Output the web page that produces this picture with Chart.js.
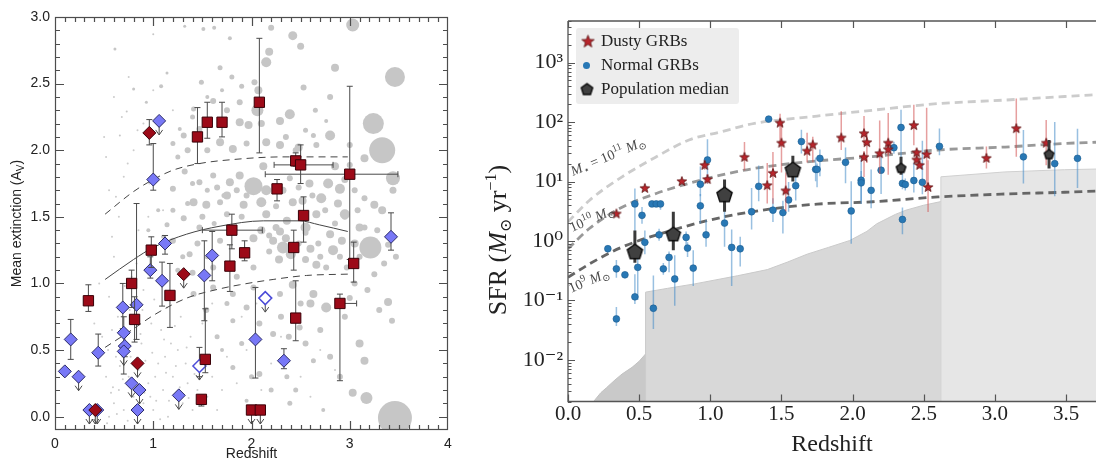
<!DOCTYPE html>
<html>
<head>
<meta charset="utf-8">
<script src="https://cdn.jsdelivr.net/npm/chart.js@4.4.0/dist/chart.umd.min.js"></script>
<style>
  html, body { margin: 0; padding: 0; background: #fff; }
  #wrap { position: relative; width: 1102px; height: 464px; }
  #izq { position: absolute; left: 0; top: 0; width: 470px; height: 464px; }
  #der { position: absolute; left: 480px; top: 0; width: 622px; height: 464px; }
</style>
</head>
<body>
<div id="wrap">
  <div id="izq"><canvas id="graficaExtincion"></canvas></div>
  <div id="der"><canvas id="graficaSFR"></canvas></div>
</div>
<script>
// ================= Panel izquierdo: extincion media =================
// diamantes azules
const azulZ  = [0.10, 0.16, 0.24, 0.35, 0.43, 0.44, 0.69, 0.70, 0.71, 0.70, 0.83, 0.78, 0.86, 0.84, 0.97, 1.00, 1.06, 1.09, 1.12, 1.26, 1.52, 1.60, 2.04, 2.33, 3.42];
const azulAv = [0.34, 0.58, 0.30, 0.05, 0.05, 0.48, 0.82, 0.63, 0.53, 0.49, 0.84, 0.25, 0.20, 0.05, 1.10, 1.78, 2.22, 1.02, 1.30, 0.16, 1.06, 1.21, 0.58, 0.42, 1.35];
const azulLo = [null, 0.43, null, null, null, 0.38, 0.66, 0.50, 0.45, 0.32, 0.58, null, null, null, 1.04, 1.70, null, 0.83, 1.22, null, 0.72, 1.02, 0.29, 0.36, 1.25];
const azulHi = [null, 0.73, null, null, null, 0.62, 1.00, 0.75, 0.62, 0.55, 1.60, null, null, null, 1.20, 2.05, null, 1.16, 1.36, null, 1.32, 1.39, 0.97, 0.51, 1.53];
const azulLim = [0, 0, 1, 1, 1, 0, 0, 0, 0, 1, 0, 1, 1, 1, 0, 0, 1, 0, 0, 1, 0, 0, 0, 0, 0];

// diamantes abiertos
const abiertoZ  = [1.47, 2.14];
const abiertoAv = [0.38, 0.89];
const abiertoLo = [0.30, null];
const abiertoHi = [0.52, null];
const abiertoLim = [1, 1];

// diamantes rojos
const rojoDZ  = [0.96, 0.41, 0.84, 1.31];
const rojoDAv = [2.13, 0.05, 0.40, 1.07];
const rojoDLo = [2.04, null, null, null];
const rojoDHi = [2.23, null, null, null];
const rojoDLim = [0, 1, 1, 1];

// cuadrados rojos
const cuadZ  = [0.34, 0.78, 0.81, 0.98, 1.17, 1.45, 1.55, 1.70, 2.08, 1.49, 1.53, 1.78, 1.80, 1.93, 2.00, 2.09, 2.26, 2.45, 2.50, 2.53, 2.43, 2.45, 3.00, 3.04, 2.90];
const cuadAv = [0.87, 1.00, 0.73, 1.25, 0.91, 2.10, 2.21, 2.21, 2.36, 0.13, 0.43, 1.13, 1.40, 1.23, 0.05, 0.05, 1.71, 1.92, 1.89, 1.51, 1.27, 0.74, 1.82, 1.15, 0.85];
const cuadLo = [0.79, 0.82, 0.56, 1.12, 0.67, 1.90, 2.09, 2.10, 1.98, 0.08, 0.33, 0.94, 1.26, 1.17, null, null, 1.62, 1.88, 1.75, 1.31, 1.10, 0.57, 1.18, 1.01, 0.27];
const cuadHi = [0.99, 1.10, 0.90, 1.35, 1.15, 2.32, 2.36, 2.36, 2.84, 0.16, 0.81, 1.29, 1.52, 1.32, null, null, 1.78, 1.98, 2.04, 1.65, 1.40, 1.02, 2.48, 1.31, 0.92];
const cuadZLo = [null, null, null, null, null, null, null, null, null, null, null, null, 1.50, null, null, null, null, null, 2.23, null, null, null, 2.14, null, 2.86];
const cuadZHi = [null, null, null, null, null, null, null, 2.31, null, null, null, null, 2.11, null, null, null, null, null, 2.83, null, null, null, 3.49, null, 3.07];
const cuadLim = [0, 0, 0, 0, 0, 0, 0, 0, 0, 0, 0, 0, 0, 0, 1, 1, 0, 0, 0, 0, 0, 0, 0, 0, 0];

// burbujas grises (poblacion de galaxias)
const bubZ  = [1.32, 1.51, 1.62, 1.78, 2.20, 2.42, 2.50, 2.18, 2.15, 3.03, 2.85, 3.46, 2.53, 2.07, 2.03, 1.68, 1.49, 1.08, 1.41, 1.61, 1.88, 2.06, 2.39, 1.88, 1.97, 2.29, 2.80, 3.24, 3.33, 2.76, 1.31, 1.47, 1.68, 1.81, 2.15, 2.29, 2.63, 2.66, 3.00, 3.15, 3.44, 3.44, 2.85, 3.00, 2.02, 2.15, 1.88, 1.78, 1.61, 1.47, 1.32, 1.20, 1.41, 1.54, 1.68, 1.92, 2.10, 2.42, 2.71, 2.78, 2.90, 3.25, 3.33, 2.59, 2.39, 3.15, 2.15, 2.29, 2.36, 2.80, 2.83, 2.92, 3.21, 3.47, 3.39, 2.32, 2.22, 2.02, 1.68, 1.47, 1.31, 1.14, 1.20, 1.37, 1.61, 2.02, 2.66, 2.76, 2.97, 3.25, 2.76, 2.63, 3.00, 3.39, 3.43, 2.42, 2.29, 2.02, 1.81, 1.61, 1.41, 1.54, 1.81, 2.22, 2.49, 3.10, 3.15, 2.63, 2.36, 2.08, 1.81, 3.03, 3.17, 3.46, 2.39, 2.73, 1.95, 0.61, 1.00, 0.80, 0.93, 1.14, 1.27, 0.73, 0.66, 2.55, 2.95, 2.12, 1.75, 2.60, 3.10, 2.48,
  2.10, 2.18, 2.25, 2.35, 2.40, 2.28, 2.18, 2.48, 2.55, 2.60, 2.68, 2.70, 2.55, 1.65, 1.72, 1.85, 1.95, 1.90, 1.75, 1.62, 1.55, 1.40, 1.35, 2.25, 2.32, 2.48, 2.52, 2.62, 2.66, 2.75, 2.88, 2.95, 2.85, 2.95, 3.05, 3.08, 2.90, 3.05, 3.10, 3.15, 3.28, 3.35, 3.05, 3.18, 3.30, 2.95, 1.65, 1.75, 1.85, 1.95, 2.08, 2.15, 2.30, 2.38, 2.50, 2.55, 2.70, 2.80, 2.90, 2.45, 2.20, 2.00, 1.70, 1.90, 1.25, 1.30, 1.40, 1.45, 1.55, 1.50, 1.20, 1.10, 1.05, 0.95, 1.20, 1.25, 1.35, 1.55, 1.40, 1.55, 1.70, 1.80, 1.90, 1.75, 2.10, 1.95, 2.35, 2.45, 2.55, 2.65, 2.80];
const bubAv = [2.93, 2.91, 2.92, 2.84, 2.92, 2.86, 2.78, 2.74, 2.66, 2.94, 2.62, 2.55, 2.47, 2.45, 2.51, 2.62, 2.51, 2.48, 2.31, 2.37, 2.36, 2.30, 2.27, 2.21, 2.19, 2.22, 2.11, 2.20, 2.00, 2.22, 2.11, 2.16, 2.06, 2.01, 2.06, 2.04, 2.11, 2.04, 2.04, 1.94, 1.79, 1.70, 1.88, 1.89, 1.73, 1.70, 1.81, 1.76, 1.81, 1.76, 1.84, 1.71, 1.61, 1.59, 1.61, 1.59, 1.61, 1.61, 1.64, 1.75, 1.71, 1.59, 1.55, 1.75, 1.79, 1.64, 1.52, 1.39, 1.47, 1.37, 1.25, 1.32, 1.27, 1.20, 1.29, 1.27, 1.32, 1.34, 1.32, 1.42, 1.49, 1.44, 1.32, 1.22, 1.12, 1.12, 1.14, 1.12, 1.12, 1.07, 0.82, 0.92, 0.89, 0.86, 0.72, 0.99, 0.92, 0.97, 0.92, 0.97, 0.92, 0.80, 0.72, 0.62, 0.67, 0.55, 0.42, 0.42, 0.30, 0.32, 0.37, 0.18, 0.14, -0.01, 0.10, 0.05, 0.12, 2.76, 2.87, 2.46, 2.36, 2.58, 2.16, 2.29, 2.11, 1.42, 1.52, 1.88, 1.66, 0.85, 1.42, 2.02,
  1.40, 1.36, 1.42, 1.34, 1.22, 1.18, 1.24, 1.30, 1.38, 1.26, 1.30, 1.20, 1.18, 1.72, 1.66, 1.70, 1.66, 1.50, 1.52, 1.45, 1.70, 1.75, 1.60, 1.58, 1.70, 1.72, 1.62, 1.66, 1.52, 1.55, 1.60, 1.50, 1.45, 1.78, 1.70, 1.55, 1.20, 1.30, 1.20, 1.42, 1.40, 1.15, 1.00, 0.95, 0.80, 0.75, 0.60, 0.85, 1.05, 0.82, 0.70, 0.90, 0.75, 0.60, 0.85, 0.55, 0.65, 0.45, 0.30, 0.20, 0.20, 0.30, 0.50, 0.55, 1.10, 1.20, 1.08, 1.30, 1.20, 1.50, 1.55, 1.35, 1.55, 1.40, 2.05, 1.95, 2.00, 2.00, 2.25, 2.40, 2.45, 2.55, 2.48, 2.30, 2.20, 2.05, 2.10, 2.00, 2.15, 2.30, 2.40];
const bubR  = [1.5, 2, 2, 2, 3, 4.5, 3.5, 4, 5, 6.5, 4, 10, 3, 4, 3, 2.5, 2.5, 2, 2.5, 3, 3, 6, 5, 4, 4, 4, 5, 10.5, 13, 2, 3, 3, 4, 4, 4, 4, 2.5, 3, 3, 4, 7, 3.5, 4, 3, 9, 5, 4, 4, 3, 3, 3, 3, 4, 4, 3, 4, 5, 4, 5, 5, 5, 4, 4, 4, 3, 3, 4, 4, 4, 4, 5, 4, 11, 3, 3, 6, 4, 4, 3, 3, 3, 2.5, 3, 3, 3, 3, 4, 3, 3, 3, 5, 4, 3, 4, 3, 4, 3, 3, 3, 3, 3, 3, 2.5, 3, 3, 4, 4, 2.5, 2.5, 3, 2.5, 4, 6, 17, 2.5, 2, 2, 1.5, 1, 1.5, 1.5, 1.5, 2, 1, 1, 5, 5, 4, 4, 4, 4, 4,
  4, 3, 3.5, 4, 5, 4, 3, 3, 3, 4, 3, 3, 3.5, 3, 2.5, 3, 3, 3, 3, 2.5, 2.5, 2.5, 2.5, 3, 3.5, 3, 4, 3, 4, 3, 4, 3, 3, 3.5, 3, 3, 3, 4, 3, 3, 3, 3, 3, 3, 3, 3, 2.5, 2.5, 3, 3, 3, 3, 3, 3, 3, 3, 3, 3, 3, 2.5, 2.5, 2.5, 2, 2.5, 2.5, 2.5, 3, 3, 2.5, 3, 2.5, 2, 2, 2, 2.5, 2.5, 3, 3, 2.5, 2, 2, 2.5, 2.5, 3, 3.5, 3, 3, 3, 2.5, 2.5, 3];

// nube de puntos pequenos
const puntoZ  = [0.55, 0.60, 0.65, 0.70, 0.75, 0.80, 0.85, 0.90, 0.95, 1.00, 1.05, 1.10, 1.15, 1.20, 1.25, 1.30, 1.35, 1.40, 1.45, 1.55, 1.60, 1.65, 1.70, 0.62, 0.72, 0.88, 0.98, 1.08, 1.18, 1.28, 1.38, 0.52, 0.58, 0.68, 0.90, 0.78, 0.60, 0.55, 0.65, 0.70, 0.80, 0.90, 0.60, 0.75, 0.50, 0.55, 1.00, 1.20, 0.85, 1.10, 1.75, 1.85, 1.95, 2.10, 2.20, 2.30, 2.50, 2.60, 2.70, 2.85, 1.90, 2.05, 1.50, 1.60, 0.45, 0.40, 0.95, 0.66, 0.92, 1.03, 1.13, 1.33, 1.42, 0.57, 0.82,
  0.53, 0.63, 0.74, 0.86, 0.97, 1.07, 1.16, 1.27, 1.36, 1.47, 0.59, 0.69, 0.79, 0.91, 1.02, 1.12, 1.23, 1.34, 0.54, 0.67, 0.77, 0.87, 0.99, 1.11, 1.22, 0.64, 0.76, 0.89, 1.01, 1.14, 0.71, 0.83, 0.58, 0.48, 0.52, 0.62, 0.74, 0.68, 0.84, 0.96];
const puntoAv = [0.00, 0.10, 0.20, 0.05, 0.30, 0.15, 0.35, 0.10, 0.25, 0.05, 0.40, 0.20, 0.00, 0.30, 0.50, 0.10, 0.25, 0.05, 0.20, 0.15, 0.30, 0.05, 0.20, 0.45, 0.60, 0.55, 0.70, 0.65, 0.55, 0.75, 0.60, 0.30, 0.65, 0.85, 0.95, 1.05, 1.20, 0.90, 1.50, 1.80, 2.00, 2.20, 2.40, 2.55, 2.10, 1.70, 2.45, 2.30, 1.40, 1.55, 0.45, 0.25, 0.50, 0.20, 0.40, 0.60, 0.30, 0.15, 0.50, 0.35, 0.75, 0.85, 0.70, 0.85, 1.00, 0.70, 1.50, 0.38, 0.42, 0.12, 0.33, 0.40, 0.32, 0.18, 0.08,
  -0.05, 0.02, -0.03, 0.07, 0.15, -0.02, 0.12, 0.22, 0.14, 0.08, 0.22, 0.28, 0.40, 0.18, 0.30, 0.45, 0.38, 0.52, 0.50, 0.52, 0.45, 0.62, 0.48, 0.58, 0.68, 0.75, 0.80, 0.80, 0.88, 0.82, 0.98, 1.15, 1.35, 0.60, 1.95, 1.65, 1.90, 2.25, 2.15, 1.75];

// curvas (media y dispersion)
const curvaZ     = [0.51, 0.80, 1.00, 1.34, 1.68, 2.12, 2.49, 2.69, 2.98];
const curvaMedia = [1.03, 1.18, 1.27, 1.37, 1.43, 1.47, 1.47, 1.44, 1.39];
const curvaAltaZ = [0.51, 0.80, 1.00, 1.20, 1.47, 1.81, 2.32, 2.98];
const curvaAlta  = [1.52, 1.69, 1.78, 1.85, 1.90, 1.93, 1.95, 1.95];
const curvaBajaZ = [0.51, 0.80, 1.00, 1.34, 1.68, 1.88, 2.22, 2.56, 2.98];
const curvaBaja  = [0.52, 0.66, 0.76, 0.89, 0.96, 0.99, 1.03, 1.06, 1.07];

const ticksXIzq = [0, 1, 2, 3, 4];
const ticksYIzq = [0, 0.5, 1.0, 1.5, 2.0, 2.5, 3.0];

// ================= Panel derecho: SFR =================
const normalZ   = [0.28, 0.34, 0.34, 0.40, 0.47, 0.52, 0.47, 0.49, 0.54, 0.59, 0.62, 0.65, 0.60, 0.64, 0.67, 0.71, 0.75, 0.83, 0.84, 0.88, 0.93, 0.93, 0.97, 0.98, 1.10, 1.15, 1.21, 1.29, 1.34, 1.41, 1.44, 1.51, 1.55, 1.60, 1.64, 1.74, 1.77, 1.75, 1.95, 1.99, 2.06, 2.06, 2.13, 2.20, 2.29, 2.34, 2.35, 2.37, 2.35, 2.43, 2.49, 2.61, 3.20, 3.42, 3.58];
const normalSFR = [0.74, 0.34, 0.049, 0.27, 4.2, 2.7, 0.115, 0.36, 0.95, 4.2, 4.2, 4.2, 0.074, 1.27, 0.34, 0.53, 0.23, 1.15, 0.76, 0.35, 9.0, 3.9, 1.27, 23, 2.0, 0.78, 0.74, 3.1, 8.3, 112, 3.3, 3.0, 4.9, 8.5, 47, 16, 24.5, 16, 21, 3.2, 10.5, 9.5, 7.1, 15.5, 37, 81, 9.3, 8.9, 2.3, 10.4, 9.7, 39, 26, 20, 24.5];
const normalUp  = [0.05, 0.15, 0.20, 0.05, 0.26, 0.14, 0.38, 0.20, 0.20, 0.05, 0.05, 0.05, 0.55, 0.10, 0.10, 0.10, 0.40, 0.10, 0.10, 0.30, 0.30, 0.20, 0.25, 0.35, 0.30, 0.30, 0.20, 0.40, 0.35, 0.00, 0.20, 0.20, 0.30, 0.25, 0.20, 0.20, 0.15, 0.10, 0.25, 0.50, 0.35, 0.20, 0.35, 0.30, 0.10, 0.30, 0.20, 0.10, 0.20, 0.30, 0.70, 0.30, 0.45, 0.70, 0.50];
const normalDn  = [0.05, 0.15, 0.12, 0.05, 0.60, 0.14, 0.12, 0.55, 0.20, 0.05, 0.05, 0.10, 0.35, 0.10, 0.10, 0.25, 0.45, 0.15, 0.15, 0.30, 0.20, 0.30, 0.20, 0.40, 0.40, 0.65, 0.30, 0.30, 0.25, 0.00, 0.20, 0.35, 0.20, 0.25, 0.20, 0.20, 0.30, 0.30, 0.35, 0.55, 0.40, 0.30, 0.30, 0.40, 0.10, 0.50, 0.10, 0.10, 0.25, 0.20, 0.20, 0.15, 0.45, 0.55, 0.50];

const dustyZ   = [0.34, 0.54, 0.80, 0.96, 0.98, 1.24, 1.40, 1.44, 1.49, 1.50, 1.53, 1.68, 1.72, 1.92, 2.08, 2.10, 2.08, 2.19, 2.25, 2.25, 2.43, 2.45, 2.45, 2.47, 2.52, 2.53, 2.94, 3.15, 3.36];
const dustySFR = [2.9, 7.8, 10.2, 19, 11, 26, 8.7, 14, 98, 45, 7.1, 33, 42, 55, 65, 46, 26, 30, 45, 35, 89, 31, 23.5, 19, 29, 8.1, 25, 79, 45];
const dustyUp  = [0, 0, 0, 0.08, 0.08, 0.25, 0.37, 0.35, 0.15, 0.30, 0.30, 0.30, 0.13, 0.44, 0.29, 0.15, 0.10, 0.55, 0.50, 0.10, 0.34, 0.06, 0.06, 0, 0.78, 0.45, 0.19, 0.50, 0.38];
const dustyDn  = [0, 0, 0, 0.08, 0.08, 0.23, 0.31, 0.52, 0.35, 0.50, 0.35, 0.20, 0.30, 0.21, 0.20, 0.35, 0.34, 0.35, 0.20, 0.43, 0.34, 0.06, 0.06, 0, 0.60, 0.42, 0.18, 0.48, 0.38];

const medianaZ   = [0.47, 0.74, 1.10, 1.58, 2.34, 3.38];
const medianaSFR = [0.67, 1.32, 6.1, 16, 17, 29];
const medianaLo  = [0.43, 0.70, 3.1, 10, 13, 16.6];
const medianaHi  = [1.5, 3.1, 10.8, 27, 26, 50];
const medianaTam = [8, 7.5, 8, 8, 5, 5];

// trayectorias de masa estelar
const m11Z = [0, 0.15, 0.38, 0.62, 0.85, 1.08, 1.31, 1.59, 1.75, 2.14, 2.60, 3.07, 3.49, 3.71];
const m11  = [2.1, 4.8, 12, 26, 50, 69, 95, 115, 126, 158, 204, 234, 269, 288];
const m10Z = [0, 0.15, 0.38, 0.62, 0.85, 1.08, 1.31, 1.68, 2.14, 2.60, 3.07, 3.49, 3.71];
const m10  = [0.74, 1.62, 3.7, 6.3, 9.3, 12.9, 16.6, 21.4, 26.3, 33.9, 38, 43.7, 45.7];
const m9Z  = [0, 0.15, 0.38, 0.73, 1.08, 1.43, 1.75, 2.14, 2.60, 3.07, 3.49, 3.71];
const m9   = [0.245, 0.41, 0.79, 1.51, 2.5, 3.47, 4.17, 4.57, 5.5, 6.17, 6.6, 6.9];

// limites de deteccion (zonas sombreadas)
const limEsqZ = [0.18, 0.23, 0.27, 0.33, 0.38, 0.45, 0.50, 0.545];
const limEsq  = [0.002, 0.0028, 0.0034, 0.0046, 0.0058, 0.0075, 0.0095, 0.0126];
const limMedZ = [0.545, 0.545, 0.70, 0.89, 1.19, 1.40, 1.54, 1.68, 1.83, 1.98, 2.10, 2.17, 2.30, 2.375, 2.50, 2.62];
const limMed  = [0.002, 0.138, 0.16, 0.19, 0.26, 0.33, 0.44, 0.60, 0.78, 1.02, 1.45, 1.95, 2.8, 3.3, 4.0, 4.6];
const limAltZ = [2.62, 2.62, 3.07, 3.49, 3.71];
const limAlt  = [0.002, 12, 14.5, 15.8, 16.2];

const ticksXDer = [0, 0.5, 1.0, 1.5, 2.0, 2.5, 3.0, 3.5];
const ticksYDer = [0.01, 0.1, 1, 10, 100, 1000];
const etiquetasYDer = ['10\u207B\u00B2', '10\u207B\u00B9', '10\u2070', '10\u00B9', '10\u00B2', '10\u00B3'];

// ---------- utilidades ----------
function pares(xs, ys) {
  return xs.map((x, i) => ({ x: x, y: ys[i] }));
}

function hacerEstrella(R) {
  const c = document.createElement('canvas');
  const s = Math.ceil(2 * R + 4);
  c.width = s; c.height = s;
  const g = c.getContext('2d');
  g.translate(s / 2, s / 2 + R * 0.1);
  g.beginPath();
  for (let i = 0; i < 10; i++) {
    const rr = i % 2 === 0 ? R : R * 0.42;
    const a = -Math.PI / 2 + i * Math.PI / 5;
    g.lineTo(rr * Math.cos(a), rr * Math.sin(a));
  }
  g.closePath();
  g.fillStyle = '#b8252c';
  g.fill();
  g.lineWidth = 0.8;
  g.strokeStyle = '#5a1212';
  g.stroke();
  return c;
}

function hacerPentagono(R) {
  const c = document.createElement('canvas');
  const s = Math.ceil(2 * R + 5);
  c.width = s; c.height = s;
  const g = c.getContext('2d');
  g.translate(s / 2, s / 2 + R * 0.1);
  g.beginPath();
  for (let i = 0; i < 5; i++) {
    const a = -Math.PI / 2 + i * 2 * Math.PI / 5;
    g.lineTo(R * Math.cos(a), R * Math.sin(a));
  }
  g.closePath();
  g.fillStyle = '#404040';
  g.fill();
  g.lineWidth = 1.4;
  g.strokeStyle = '#0d0d0d';
  g.stroke();
  return c;
}

// barras de error: se dibujan justo antes del dataset al que pertenecen
const barrasPlugin = {
  id: 'barras',
  beforeDatasetDraw(chart, args) {
    const ds = chart.data.datasets[args.index];
    const b = ds.barras;
    if (!b) return;
    const { ctx, chartArea } = chart;
    const x = chart.scales.x, y = chart.scales.y;
    ctx.save();
    ctx.beginPath();
    ctx.rect(chartArea.left, chartArea.top, chartArea.width, chartArea.height);
    ctx.clip();
    ctx.strokeStyle = b.color;
    ctx.lineWidth = b.width;
    ds.data.forEach((p, i) => {
      const px = x.getPixelForValue(p.x);
      const py = y.getPixelForValue(p.y);
      ctx.beginPath();
      if (b.lo && b.lo[i] != null) {
        const y1 = y.getPixelForValue(b.lo[i]);
        const y2 = y.getPixelForValue(b.hi[i]);
        ctx.moveTo(px, y1); ctx.lineTo(px, y2);
        if (b.cap) {
          ctx.moveTo(px - b.cap, y1); ctx.lineTo(px + b.cap, y1);
          ctx.moveTo(px - b.cap, y2); ctx.lineTo(px + b.cap, y2);
        }
      }
      if (b.xlo && b.xlo[i] != null) {
        const x1 = x.getPixelForValue(b.xlo[i]);
        const x2 = x.getPixelForValue(b.xhi[i]);
        ctx.moveTo(x1, py); ctx.lineTo(x2, py);
        if (b.cap) {
          ctx.moveTo(x1, py - b.cap); ctx.lineTo(x1, py + b.cap);
          ctx.moveTo(x2, py - b.cap); ctx.lineTo(x2, py + b.cap);
        }
      }
      if (b.lim && b.lim[i]) {
        ctx.moveTo(px, py); ctx.lineTo(px, py + 14);
        ctx.moveTo(px - 3.5, py + 9); ctx.lineTo(px, py + 14); ctx.lineTo(px + 3.5, py + 9);
      }
      ctx.stroke();
    });
    ctx.restore();
  }
};

// ---------- grafica izquierda ----------
const fuenteIzq = '"Liberation Sans", Arial, sans-serif';
const colorBarraIzq = '#4a4a4a';

const marcoIzq = {
  id: 'marcoIzq',
  afterDraw(chart) {
    const { ctx, chartArea: a } = chart;
    const x = chart.scales.x, y = chart.scales.y;
    ctx.save();
    ctx.strokeStyle = '#4d4d4d';
    ctx.lineWidth = 1.2;
    ctx.strokeRect(a.left + 0.5, a.top + 0.5, a.width - 1, a.height - 1);
    ctx.beginPath();
    for (let i = 1; i < 40; i++) {
      const v = i / 10;
      const px = Math.round(x.getPixelForValue(v)) + 0.5;
      const len = i % 10 === 0 ? 9 : 5;
      ctx.moveTo(px, a.bottom); ctx.lineTo(px, a.bottom - len);
      ctx.moveTo(px, a.top); ctx.lineTo(px, a.top + len);
    }
    for (let i = 0; i <= 30; i++) {
      const v = i / 10;
      const py = Math.round(y.getPixelForValue(v)) + 0.5;
      const len = i % 5 === 0 ? 9 : 5;
      ctx.moveTo(a.left, py); ctx.lineTo(a.left + len, py);
      ctx.moveTo(a.right, py); ctx.lineTo(a.right - len, py);
    }
    ctx.stroke();
    // titulo eje y con subindice
    ctx.translate(17, (a.top + a.bottom) / 2);
    ctx.rotate(-Math.PI / 2);
    ctx.fillStyle = '#222';
    ctx.textBaseline = 'middle';
    ctx.font = '14px ' + fuenteIzq;
    const t1 = 'Mean extinction (A', t3 = ')';
    const w1 = ctx.measureText(t1).width, w3 = ctx.measureText(t3).width;
    ctx.font = '10px ' + fuenteIzq;
    const w2 = ctx.measureText('V').width;
    let x0 = -(w1 + w2 + w3) / 2;
    ctx.font = '14px ' + fuenteIzq;
    ctx.fillText(t1, x0, 0);
    ctx.font = '10px ' + fuenteIzq;
    ctx.fillText('V', x0 + w1, 4);
    ctx.font = '14px ' + fuenteIzq;
    ctx.fillText(t3, x0 + w1 + w2, 0);
    ctx.restore();
  }
};

const rojo = '#9c0a18';
const bordeRojo = '#3a0008';

new Chart(document.getElementById('graficaExtincion'), {
  type: 'scatter',
  data: {
    datasets: [
      {
        type: 'bubble',
        data: bubZ.map((z, i) => ({ x: z, y: bubAv[i], r: bubR[i] })),
        backgroundColor: '#c6c6c6',
        borderWidth: 0,
        order: 10
      },
      {
        data: pares(puntoZ, puntoAv),
        pointRadius: 1,
        backgroundColor: '#cccccc',
        borderWidth: 0,
        order: 9
      },
      {
        data: pares(curvaZ, curvaMedia),
        showLine: true, pointRadius: 0,
        borderColor: '#444', borderWidth: 1,
        cubicInterpolationMode: 'monotone',
        order: 5
      },
      {
        data: pares(curvaAltaZ, curvaAlta),
        showLine: true, pointRadius: 0,
        borderColor: '#444', borderWidth: 1, borderDash: [7, 5],
        cubicInterpolationMode: 'monotone',
        order: 5
      },
      {
        data: pares(curvaBajaZ, curvaBaja),
        showLine: true, pointRadius: 0,
        borderColor: '#444', borderWidth: 1, borderDash: [7, 5],
        cubicInterpolationMode: 'monotone',
        order: 5
      },
      {
        data: pares(azulZ, azulAv),
        pointStyle: 'rectRot', pointRadius: 6.5,
        backgroundColor: '#7878f6', borderColor: '#2a2a66', borderWidth: 1,
        barras: { lo: azulLo, hi: azulHi, lim: azulLim, color: colorBarraIzq, width: 1, cap: 3 },
        order: 4
      },
      {
        data: pares(abiertoZ, abiertoAv),
        pointStyle: 'rectRot', pointRadius: 6.5,
        backgroundColor: '#ffffff', borderColor: '#4b4bd8', borderWidth: 1.5,
        barras: { lo: abiertoLo, hi: abiertoHi, lim: abiertoLim, color: colorBarraIzq, width: 1, cap: 3 },
        order: 3
      },
      {
        data: pares(rojoDZ, rojoDAv),
        pointStyle: 'rectRot', pointRadius: 6.5,
        backgroundColor: rojo, borderColor: bordeRojo, borderWidth: 1,
        barras: { lo: rojoDLo, hi: rojoDHi, lim: rojoDLim, color: colorBarraIzq, width: 1, cap: 3 },
        order: 2
      },
      {
        data: pares(cuadZ, cuadAv),
        pointStyle: 'rect', pointRadius: 7.3,
        backgroundColor: rojo, borderColor: bordeRojo, borderWidth: 1,
        barras: { lo: cuadLo, hi: cuadHi, xlo: cuadZLo, xhi: cuadZHi, lim: cuadLim, color: colorBarraIzq, width: 1, cap: 3 },
        order: 1
      }
    ]
  },
  options: {
    responsive: true,
    maintainAspectRatio: false,
    animation: false,
    events: [],
    layout: { padding: { left: 0, right: 22, top: 13, bottom: 0 } },
    plugins: { legend: { display: false }, tooltip: { enabled: false } },
    scales: {
      x: {
        type: 'linear', min: 0, max: 4,
        grid: { display: false, drawTicks: false },
        border: { display: false },
        afterBuildTicks: (s) => { s.ticks = ticksXIzq.map(v => ({ value: v })); },
        afterFit: (s) => { s.height = 34; s.paddingLeft = 0; s.paddingRight = 0; },
        ticks: {
          autoSkip: false, maxRotation: 0, padding: 6,
          color: '#222', font: { family: fuenteIzq, size: 14 },
          callback: (v) => String(v)
        },
        title: { display: true, text: 'Redshift', color: '#222', font: { family: fuenteIzq, size: 14 }, padding: { top: 0, bottom: 1 } }
      },
      y: {
        type: 'linear', min: -0.1, max: 3.0,
        grid: { display: false, drawTicks: false },
        border: { display: false },
        afterBuildTicks: (s) => { s.ticks = ticksYIzq.map(v => ({ value: v })); },
        afterFit: (s) => { s.width = 55; s.paddingTop = 0; s.paddingBottom = 0; },
        ticks: {
          autoSkip: false, padding: 5,
          color: '#222', font: { family: fuenteIzq, size: 14 },
          callback: (v) => Number(v).toFixed(1)
        }
      }
    }
  },
  plugins: [barrasPlugin, marcoIzq]
});

// ---------- grafica derecha ----------
const fuenteDer = '"Liberation Serif", "DejaVu Serif", serif';
const estrella = hacerEstrella(5);
const estrellaLeyenda = hacerEstrella(6.5);
const pentLeyenda = hacerPentagono(6);

function textoPartes(ctx, partes, x0, y0) {
  // partes: [texto, fuente, desplazamiento vertical]
  let x = x0;
  partes.forEach(([t, f, dy]) => {
    ctx.font = f;
    ctx.fillText(t, x, y0 + dy);
    x += ctx.measureText(t).width;
  });
}

function anchoPartes(ctx, partes) {
  let w = 0;
  partes.forEach(([t, f]) => { ctx.font = f; w += ctx.measureText(t).width; });
  return w;
}

const marcoDer = {
  id: 'marcoDer',
  afterDraw(chart) {
    const { ctx, chartArea: a } = chart;
    const x = chart.scales.x, y = chart.scales.y;
    ctx.save();
    ctx.strokeStyle = '#555';
    ctx.lineWidth = 1.3;
    ctx.beginPath();
    ctx.moveTo(a.left, a.top); ctx.lineTo(a.left, a.bottom); ctx.lineTo(a.right, a.bottom);
    ctx.moveTo(a.left, a.top); ctx.lineTo(a.right, a.top);
    ctx.stroke();
    ctx.lineWidth = 1.2;
    ctx.beginPath();
    ticksXDer.forEach(v => {
      const px = Math.round(x.getPixelForValue(v)) + 0.5;
      ctx.moveTo(px, a.bottom); ctx.lineTo(px, a.bottom - 7);
      ctx.moveTo(px, a.top); ctx.lineTo(px, a.top + 7);
    });
    for (let d = -3; d <= 3; d++) {
      for (let k = 1; k <= 9; k++) {
        const v = k * Math.pow(10, d);
        if (v < y.min || v > y.max) continue;
        const py = Math.round(y.getPixelForValue(v)) + 0.5;
        ctx.moveTo(a.left, py); ctx.lineTo(a.left + (k === 1 ? 7 : 3.5), py);
      }
    }
    ctx.stroke();

    // titulo del eje y
    ctx.fillStyle = '#222';
    ctx.textBaseline = 'alphabetic';
    const fR = '26px ' + fuenteDer, fI = 'italic 26px ' + fuenteDer, fS = '16px ' + fuenteDer;
    const titulo = [['SFR (', fR, 0], ['M', fI, 0], ['\u2299', fS, 5], [' yr', fR, 0], ['\u22121', fS, -10], [')', fR, 0]];
    ctx.save();
    ctx.translate(26, 240);
    ctx.rotate(-Math.PI / 2);
    textoPartes(ctx, titulo, -anchoPartes(ctx, titulo) / 2, 0);
    ctx.restore();

    // leyenda
    ctx.fillStyle = 'rgba(236,236,236,0.95)';
    ctx.beginPath();
    ctx.roundRect(96, 28, 163, 76, 3);
    ctx.fill();
    ctx.drawImage(estrellaLeyenda, 108 - estrellaLeyenda.width / 2, 41 - estrellaLeyenda.height / 2);
    ctx.beginPath();
    ctx.arc(106.5, 65.5, 3.5, 0, Math.PI * 2);
    ctx.fillStyle = '#2878b5';
    ctx.fill();
    ctx.drawImage(pentLeyenda, 107 - pentLeyenda.width / 2, 89 - pentLeyenda.height / 2);
    ctx.fillStyle = '#222';
    ctx.textBaseline = 'middle';
    ctx.font = '17px ' + fuenteDer;
    ctx.fillText('Dusty GRBs', 121, 42);
    ctx.fillText('Normal GRBs', 121, 66);
    ctx.fillText('Population median', 121, 90);

    // etiquetas de las curvas de masa
    ctx.fillStyle = '#4a4a4a';
    ctx.textBaseline = 'alphabetic';
    const fi = 'italic 14px ' + fuenteDer, fr = '14px ' + fuenteDer, fs = '10px ' + fuenteDer;
    const etiquetas = [
      { x: 93, y: 176, partes: [['M', fi, 0], ['\u22C6', fs, 3], [' = 10', fr, 0], ['11', fs, -6], [' M', fi, 0], ['\u2299', fs, 3]] },
      { x: 92, y: 232, partes: [['10', fr, 0], ['10', fs, -6], [' M', fi, 0], ['\u2299', fs, 3]] },
      { x: 91, y: 293, partes: [['10', fr, 0], ['9', fs, -6], [' M', fi, 0], ['\u2299', fs, 3]] }
    ];
    etiquetas.forEach(e => {
      ctx.save();
      ctx.translate(e.x, e.y);
      ctx.rotate(-0.40);
      textoPartes(ctx, e.partes, 0, 0);
      ctx.restore();
    });
    ctx.restore();
  }
};

function barrasLog(vals, up, dn) {
  return {
    lo: vals.map((v, i) => (up[i] || dn[i]) ? v / Math.pow(10, dn[i]) : null),
    hi: vals.map((v, i) => (up[i] || dn[i]) ? v * Math.pow(10, up[i]) : null)
  };
}

const bNormal = barrasLog(normalSFR, normalUp, normalDn);
const bDusty = barrasLog(dustySFR, dustyUp, dustyDn);

function curvaMasa(xs, ys, color) {
  return {
    data: pares(xs, ys),
    showLine: true, pointRadius: 0,
    borderColor: color, borderWidth: 2.8, borderDash: [8, 5],
    cubicInterpolationMode: 'monotone',
    order: 20
  };
}

function zona(xs, ys, fondo, borde) {
  return {
    data: pares(xs, ys),
    showLine: true, pointRadius: 0,
    borderColor: borde, borderWidth: 1,
    backgroundColor: fondo,
    fill: 'start',
    order: 30
  };
}

new Chart(document.getElementById('graficaSFR'), {
  type: 'scatter',
  data: {
    datasets: [
      zona(limAltZ, limAlt, '#e6e6e6', '#d0d0d0'),
      zona(limMedZ, limMed, '#d8d8d8', '#cacaca'),
      zona(limEsqZ, limEsq, '#c9c9c9', '#c2c2c2'),
      curvaMasa(m11Z, m11, '#cccccc'),
      curvaMasa(m10Z, m10, '#999999'),
      curvaMasa(m9Z, m9, '#666666'),
      {
        data: pares(normalZ, normalSFR),
        pointStyle: 'circle', pointRadius: 3.4,
        backgroundColor: '#2878b5', borderColor: '#1c5d8f', borderWidth: 0.6,
        barras: { lo: bNormal.lo, hi: bNormal.hi, color: 'rgba(70,140,200,0.55)', width: 1.5, cap: 0 },
        order: 3
      },
      {
        data: pares(dustyZ, dustySFR),
        pointStyle: estrella, pointRadius: 5,
        barras: { lo: bDusty.lo, hi: bDusty.hi, color: 'rgba(210,80,80,0.55)', width: 1.5, cap: 0 },
        order: 2
      },
      {
        data: pares(medianaZ, medianaSFR),
        pointStyle: medianaTam.map(r => hacerPentagono(r)), pointRadius: 5,
        barras: { lo: medianaLo, hi: medianaHi, color: '#3a3a3a', width: 3, cap: 0 },
        order: 1
      }
    ]
  },
  options: {
    responsive: true,
    maintainAspectRatio: false,
    animation: false,
    events: [],
    layout: { padding: { left: 0, right: 0, top: 21, bottom: 0 } },
    plugins: { legend: { display: false }, tooltip: { enabled: false } },
    scales: {
      x: {
        type: 'linear', min: 0, max: 3.71,
        grid: { display: false, drawTicks: false },
        border: { display: false },
        afterBuildTicks: (s) => { s.ticks = ticksXDer.map(v => ({ value: v })); },
        afterFit: (s) => { s.height = 62.5; s.paddingLeft = 0; s.paddingRight = 0; },
        ticks: {
          autoSkip: false, maxRotation: 0, padding: 0,
          color: '#222', font: { family: fuenteDer, size: 21 },
          callback: (v) => Number(v).toFixed(1)
        },
        title: { display: true, text: 'Redshift', color: '#222', font: { family: fuenteDer, size: 24 }, padding: { top: 0, bottom: 5 } }
      },
      y: {
        type: 'logarithmic', min: 0.002, max: 5000,
        grid: { display: false, drawTicks: false },
        border: { display: false },
        afterBuildTicks: (s) => { s.ticks = ticksYDer.map(v => ({ value: v })); },
        afterFit: (s) => { s.width = 88; s.paddingTop = 0; s.paddingBottom = 0; },
        ticks: {
          autoSkip: false, padding: 5,
          color: '#222', font: { family: fuenteDer, size: 22 },
          callback: (v, i) => etiquetasYDer[i]
        }
      }
    }
  },
  plugins: [barrasPlugin, marcoDer]
});
</script>
</body>
</html>
